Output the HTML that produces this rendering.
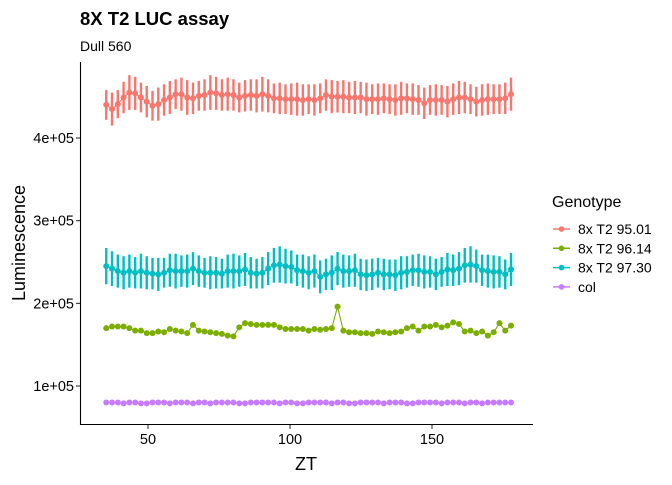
<!DOCTYPE html>
<html><head><meta charset="utf-8"><style>
body{margin:0;background:#fff;font-family:"Liberation Sans",sans-serif}
svg text{font-family:"Liberation Sans",sans-serif}
</style></head><body>
<svg id="chart" width="672" height="480" viewBox="0 0 672 480" xmlns="http://www.w3.org/2000/svg">
<text x="80" y="25" font-size="18.5" font-weight="bold">8X T2 LUC assay</text>
<text x="80" y="51" font-size="14">Dull 560</text>
<g id="plot"></g>
<line x1="80.5" y1="62" x2="80.5" y2="425" stroke="#000" stroke-width="1.1"/>
<line x1="80" y1="424.5" x2="533" y2="424.5" stroke="#000" stroke-width="1.1"/>
<g id="yticks"></g>
<g id="xticks"></g>
<text x="306" y="470" font-size="18" text-anchor="middle">ZT</text>
<text transform="translate(25,243) rotate(-90)" font-size="18" text-anchor="middle">Luminescence</text>
<g id="legend">
<text x="552" y="207" font-size="16">Genotype</text>
</g>
</svg>
<script>
const xStart = 35.3, xStep = 2.036;
const yTicks = [100, 200, 300, 400];
const yTickLabels = ["1e+05", "2e+05", "3e+05", "4e+05"];
const xTicks = [50, 100, 150];
const genotypes = ["8x T2 95.01", "8x T2 96.14", "8x T2 97.30", "col"];
const colors = ["#F8766D", "#7CAE00", "#00BFC4", "#C77CFF"];
// values in thousands
const red = [440,435,441,449,455,454,449,444,439,441,446,449,453,453,449,448,451,452,455,454,452,453,452,449,451,452,451,453,451,448,448,447,447,447,446,447,
446,448,452,450,450,450,449,449,449,447,447,447,448,447,446,448,448,447,446,442,446,446,446,444,447,449,449,447,444,446,447,447,447,448,453];
const green = [170,172,172,172,170,167,167,164,164,166,165,169,167,166,164,174,167,166,165,164,163,161,160,171,176,175,174,174,174,174,171,169,169,169,169,167,
169,168,169,170,196,167,165,165,164,164,163,166,165,164,165,166,170,172,167,172,172,174,171,173,177,175,166,167,164,166,161,165,176,167,173];
const cyan = [245,242,239,237,239,237,239,237,236,235,237,240,239,239,239,242,239,237,237,237,236,239,239,239,241,237,236,237,242,246,247,245,244,240,239,237,
239,232,235,237,242,239,239,240,235,234,235,237,235,235,234,237,238,240,240,238,238,235,238,241,240,242,246,247,245,240,239,238,238,235,241];
const purple = [80,80,80,79,80,80,79,79,80,80,80,79,80,80,80,79,80,80,79,80,80,80,80,79,79,80,80,80,80,80,79,80,80,79,79,80,
80,80,80,79,80,80,79,79,80,80,80,80,79,80,80,80,79,79,80,80,80,80,79,80,80,80,79,80,80,79,80,80,80,80,80];
const redErr = [18,20,17,19,21,20,18,19,18,20,19,20,18,20,21,19,18,19,21,20,19,20,19,18,19,19,20,21,20,18,19,18,19,20,19,18,
19,18,19,20,19,20,19,20,19,20,18,19,18,18,19,20,18,19,18,19,18,19,18,19,19,20,19,18,18,19,19,18,18,19,20];
const greenErr = new Array(71).fill(0);
const cyanErr = [22,21,20,20,20,19,21,20,19,20,18,20,21,19,20,20,19,18,20,19,18,20,21,19,20,19,18,19,20,21,22,21,20,19,20,20,
20,20,19,21,20,20,19,20,19,19,19,18,19,18,19,20,19,19,20,20,19,19,18,20,19,20,21,22,20,19,20,20,19,18,20];
const purpleErr = new Array(71).fill(1);

const xs = v => 6 + v * 2.84;
const ys = k => 138 + (400 - k) * 0.8267;
const NS = "http://www.w3.org/2000/svg";
function mk(tag, attrs, parent){const e=document.createElementNS(NS,tag);for(const k in attrs)e.setAttribute(k,attrs[k]);parent.appendChild(e);return e;}

const yt = document.getElementById('yticks');
yTicks.forEach((t,i)=>{
  const l = mk('line',{x1:76,x2:80,y1:ys(t),y2:ys(t),stroke:'#333','stroke-width':1.1},yt);
  
  
  const tx = mk('text',{x:74,y:ys(t)+5,'font-size':14.5,'text-anchor':'end',fill:'#000'},yt);
  tx.textContent = yTickLabels[i];
  
  
});
const xt = document.getElementById('xticks');
xTicks.forEach(t=>{
  const l = mk('line',{x1:xs(t),x2:xs(t),y1:425,y2:429,stroke:'#333','stroke-width':1.1},xt);
  
  
  const tx = mk('text',{x:xs(t),y:444,'font-size':14.5,'text-anchor':'middle',fill:'#000'},xt);
  tx.textContent = String(t);
  
  
});

const plot = document.getElementById('plot');
const series = [red, green, cyan, purple];
const errs = [redErr, greenErr, cyanErr, purpleErr];
series.forEach((vals, si)=>{
  const g = mk('g',{},plot);
  
  
  const pts = vals.map((v,i)=>xs(xStart+i*xStep).toFixed(1)+','+ys(v).toFixed(1)).join(' ');
  const pl = mk('polyline',{points:pts,fill:'none',stroke:colors[si],'stroke-width':1.1},g);
  
  
  vals.forEach((v,i)=>{
    const x = xs(xStart+i*xStep);
    const e = errs[si][i];
    if(e>1){
      const b = mk('line',{x1:x,x2:x,y1:ys(v+e),y2:ys(v-e),stroke:colors[si],'stroke-width':2.4},g);
      
      
    }
    const c = mk('circle',{cx:x,cy:ys(v),r:3,fill:colors[si]},g);
    
    
  });
});

const lg = document.getElementById('legend');
genotypes.forEach((n,i)=>{
  const y = 229 + i*19.3;
  const l = mk('line',{x1:553,x2:570,y1:y,y2:y,stroke:colors[i],'stroke-width':1.5},lg);
  
  
  const c = mk('circle',{cx:561.5,cy:y,r:2.8,fill:colors[i]},lg);
  
  
  const t = mk('text',{x:578,y:y+5,'font-size':14,fill:'#000'},lg);
  t.textContent = n;
  
  
});
</script>
</body></html>
